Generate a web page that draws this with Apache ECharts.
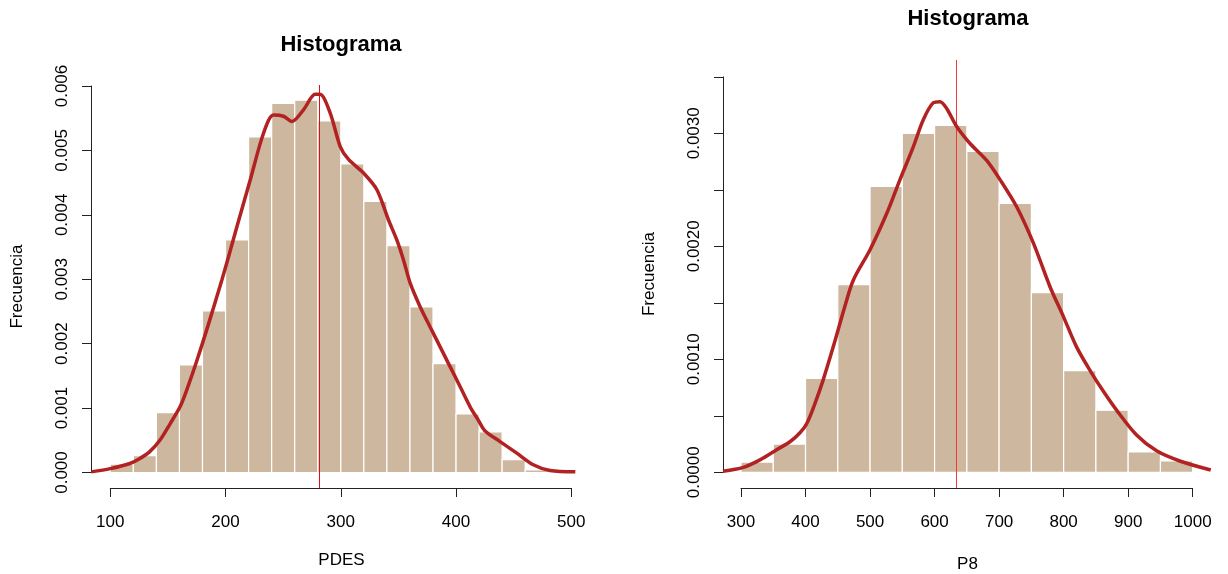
<!DOCTYPE html>
<html>
<head>
<meta charset="utf-8">
<script src="https://cdn.jsdelivr.net/npm/echarts@6/dist/echarts.min.js"></script>
<style>
html,body{margin:0;padding:0;background:#fff;}
#chart{width:1228px;height:574px;}
</style>
</head>
<body>
<div id="chart"></div>
<script>
// ---------- DATA ----------
// Left panel: PDES
const pdesBreaks = [100,120,140,160,180,200,220,240,260,280,300,320,340,360,380,400,420,440,460,480];
const pdesDensity = [0.00013,0.00026,0.00093,0.00167,0.00251,0.00361,0.00521,0.00573,0.00578,0.00546,0.00479,0.00421,0.00352,0.00257,0.00169,0.00091,0.00063,0.00020,0.00004];
const pdesCurveX = [83.5,100,117,125,134,143,152,160.5,166.3,175,186,196.8,204,209.9,221.4,233,241.6,250.3,257.6,267.6,277.8,282,290.8,299.5,306.7,319.7,331.3,341.4,348.6,354.4,360.2,368.9,377.5,386.2,394.9,403.6,412.2,419.4,425,438.2,452.7,467,481.6,503.5];
const pdesCurveY = [0.00001,0.00006,0.00014,0.00021,0.00032,0.00050,0.00076,0.00102,0.00128,0.00173,0.00235,0.00299,0.00344,0.00382,0.00454,0.00527,0.00555,0.00553,0.00545,0.00563,0.00587,0.00587,0.00558,0.00506,0.00486,0.00465,0.00439,0.00392,0.00361,0.00330,0.00294,0.00257,0.00226,0.00195,0.00164,0.00133,0.00102,0.00081,0.00065,0.00048,0.00030,0.00012,0.00003,0.00001];
const pdesMean = 281.6;
const pdesXTicks = [100,200,300,400,500];
const pdesYTicks = [0,0.001,0.002,0.003,0.004,0.005,0.006];

// Right panel: P8
const p8Breaks = [300,350,400,450,500,550,600,650,700,750,800,850,900,950,1000];
const p8Density = [0.00009,0.00025,0.00083,0.00166,0.00253,0.00300,0.00307,0.00284,0.00238,0.00159,0.00090,0.00055,0.00018,0.00010];
const p8CurveX = [272,303.6,329.4,355.3,375.9,391.4,401.8,414.7,427.5,445,460,474,500,525.8,546.4,567,582.5,598,608.4,618.7,634.2,654.9,680.7,701.4,727.2,753,779,799.5,820,841,860,882,913,944,980,1028];
const p8CurveY = [0.00001,0.000044,0.00011,0.00020,0.00027,0.00035,0.00043,0.00061,0.00082,0.00115,0.00145,0.00170,0.00197,0.00229,0.00259,0.00288,0.00312,0.00327,0.00328,0.00322,0.00306,0.00291,0.00276,0.00259,0.00235,0.00203,0.00164,0.00138,0.00111,0.00090,0.00073,0.00055,0.00033,0.00019,0.00010,0.00002];
const p8Mean = 633;
const p8XTicks = [300,400,500,600,700,800,900,1000];
const p8YTicks = [0,0.0005,0.001,0.0015,0.002,0.0025,0.003,0.0035];

// ---------- LAYOUT (pixels) ----------
const FONT = "'Liberation Sans', Arial, Helvetica, sans-serif";
const BAR_FILL = '#CDB79E';
const CURVE = '#B22222';
const AXIS = '#222222';

const panels = [
  {
    title:'Histograma', titleX:341, titleY:45,
    xName:'PDES', xNameGap:64, yName:'Frecuencia', yNameGap:65,
    plot:{l:91, t:85, r:592, b:488},
    xCal:[100,110.3,500,571.3],     // value, pixel, value, pixel
    yCal:[0,472.5,0.006,86],
    xTicks:pdesXTicks, yTicks:pdesYTicks, yDec:3, yLabelStep:0.001,
    breaks:pdesBreaks, dens:pdesDensity, cx:pdesCurveX, cy:pdesCurveY, mean:pdesMean,
    meanColor:'#e01010'
  },
  {
    title:'Histograma', titleX:968, titleY:18.5,
    xName:'P8', xNameGap:68, yName:'Frecuencia', yNameGap:65,
    plot:{l:723, t:60, r:1212, b:488},
    xCal:[300,741,1000,1192.7],
    yCal:[0,472.3,0.003,133.3],
    xTicks:p8XTicks, yTicks:p8YTicks, yDec:4, yLabelStep:0.001,
    breaks:p8Breaks, dens:p8Density, cx:p8CurveX, cy:p8CurveY, mean:p8Mean,
    meanColor:'#f03a3a'
  }
];

function lin(cal){ // returns fn pixel->value and value->pixel
  const [v0,p0,v1,p1] = cal;
  const k = (v1-v0)/(p1-p0);
  return { val:(p)=>v0+(p-p0)*k, pix:(v)=>p0+(v-v0)/k };
}

const grids=[], xAxes=[], yAxes=[], series=[], graphics=[];

panels.forEach((P)=>{
  const fx = lin(P.xCal), fy = lin(P.yCal);
  // --- plot grid (hidden axes except names)
  const gi = grids.length;
  grids.push({left:P.plot.l, top:P.plot.t, width:P.plot.r-P.plot.l, height:P.plot.b-P.plot.t, containLabel:false, outerBoundsMode:'none'});
  xAxes.push({gridIndex:gi, type:'value', min:fx.val(P.plot.l), max:fx.val(P.plot.r),
    axisLine:{show:false}, axisTick:{show:false}, axisLabel:{show:false}, splitLine:{show:false},
    name:P.xName, nameLocation:'middle', nameGap:P.xNameGap,
    nameTextStyle:{fontFamily:FONT, fontSize:17, color:'#000'}});
  yAxes.push({gridIndex:gi, type:'value', min:fy.val(P.plot.b), max:fy.val(P.plot.t),
    axisLine:{show:false}, axisTick:{show:false}, axisLabel:{show:false}, splitLine:{show:false},
    name:P.yName, nameLocation:'middle', nameGap:P.yNameGap, nameRotate:90,
    nameTextStyle:{fontFamily:FONT, fontSize:17, color:'#000'}});
  const xi = xAxes.length-1, yi = yAxes.length-1;

  // bars
  const barData = P.dens.map((d,i)=>[P.breaks[i], P.breaks[i+1], d]);
  series.push({
    type:'custom', xAxisIndex:xi, yAxisIndex:yi, data:barData, silent:true,
    renderItem:(params, api)=>{
      const a = api.coord([api.value(0), 0]);
      const b = api.coord([api.value(1), api.value(2)]);
      return {type:'rect', shape:{x:a[0], y:b[1], width:b[0]-a[0], height:a[1]-b[1]},
        style:{fill:BAR_FILL, stroke:'#ffffff', lineWidth:1.2}};
    }
  });
  // density curve
  series.push({
    type:'line', xAxisIndex:xi, yAxisIndex:yi, data:P.cx.map((x,i)=>[x,P.cy[i]]),
    smooth:0.3, symbol:'none', clip:true, silent:true,
    lineStyle:{color:CURVE, width:3.5}, z:5,
    markLine:{silent:true, symbol:['none','none'], label:{show:false},
      lineStyle:{color:P.meanColor, width:1, type:'solid'},
      data:[{xAxis:P.mean}], animation:false}
  });

  // --- x axis grid
  const xa = P.xTicks[0], xb = P.xTicks[P.xTicks.length-1];
  const gx = grids.length;
  grids.push({left:fx.pix(xa), top:P.plot.b-1, width:fx.pix(xb)-fx.pix(xa), height:1, containLabel:false, outerBoundsMode:'none'});
  xAxes.push({gridIndex:gx, type:'value', min:xa, max:xb, interval:P.xTicks[1]-P.xTicks[0],
    axisLine:{show:true, lineStyle:{color:AXIS, width:1}},
    axisTick:{show:true, inside:false, length:9, lineStyle:{color:AXIS, width:1}},
    axisLabel:{show:true, margin:26, fontFamily:FONT, fontSize:17, color:'#000',
      showMinLabel:true, showMaxLabel:true, hideOverlap:false,
      formatter:(v)=>String(Math.round(v))},
    splitLine:{show:false}});
  yAxes.push({gridIndex:gx, type:'value', show:false, min:0, max:1});

  // --- y axis grid
  const ya = P.yTicks[0], yb = P.yTicks[P.yTicks.length-1];
  const gy = grids.length;
  grids.push({left:P.plot.l, top:fy.pix(yb), width:1, height:fy.pix(ya)-fy.pix(yb), containLabel:false, outerBoundsMode:'none'});
  xAxes.push({gridIndex:gy, type:'value', show:false, min:0, max:1});
  yAxes.push({gridIndex:gy, type:'value', min:ya, max:yb, interval:P.yTicks[1]-P.yTicks[0],
    axisLine:{show:true, lineStyle:{color:AXIS, width:1}},
    axisTick:{show:true, inside:false, length:9, lineStyle:{color:AXIS, width:1}},
    axisLabel:{show:true, rotate:90, margin:20, fontFamily:FONT, fontSize:17, color:'#000',
      showMinLabel:true, showMaxLabel:true, hideOverlap:false,
      formatter:(v)=>{
        const r = v/P.yLabelStep;
        return Math.abs(r-Math.round(r))<1e-6 ? v.toFixed(P.yDec) : '';
      }},
    splitLine:{show:false}});

  graphics.push({type:'text', x:P.titleX, y:P.titleY, silent:true,
    style:{text:P.title, font:'bold 22px '+FONT, fill:'#000', textAlign:'center', textVerticalAlign:'middle'}});
});

const chart = echarts.init(document.getElementById('chart'), null, {renderer:'canvas'});
chart.setOption({
  animation:false,
  backgroundColor:'#ffffff',
  grid:grids, xAxis:xAxes, yAxis:yAxes, series:series, graphic:graphics
});
</script>
</body>
</html>
